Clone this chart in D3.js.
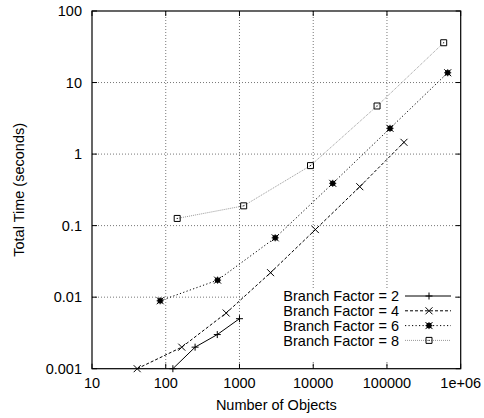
<!DOCTYPE html>
<html>
<head>
<meta charset="utf-8">
<script src="https://cdn.jsdelivr.net/npm/d3@7"></script>
<style>
  body { margin: 0; background: #fff; }
  text { font-family: "Liberation Sans", Arial, sans-serif; font-size: 14.5px; fill: #000; }
</style>
</head>
<body>
<div id="chart"></div>
<script>
// branch factor series
var bf2X = [125, 250, 500, 1000];
var bf2Y = [0.001, 0.002, 0.003, 0.005];
var bf4X = [41, 165, 660, 2640, 10700, 42800, 170000];
var bf4Y = [0.001, 0.002, 0.006, 0.022, 0.088, 0.35, 1.46];
var bf6X = [84, 505, 3050, 18400, 110000, 667000];
var bf6Y = [0.0089, 0.0173, 0.0675, 0.39, 2.29, 13.7];
var bf8X = [143, 1140, 9190, 73400, 588000];
var bf8Y = [0.126, 0.189, 0.69, 4.7, 36];

var seriesNames = ["Branch Factor = 2", "Branch Factor = 4", "Branch Factor = 6", "Branch Factor = 8"];
var xTicks = [10, 100, 1000, 10000, 100000, 1000000];
var xTickLabels = ["10", "100", "1000", "10000", "100000", "1e+06"];
var yTicks = [0.001, 0.01, 0.1, 1, 10, 100];
var yTickLabels = ["0.001", "0.01", "0.1", "1", "10", "100"];

var margin = {
        top: 11,
        right: 23.3,
        bottom: 49.3,
        left: 92
    },
    width = 484 - margin.left - margin.right,
    height = 418 - margin.top - margin.bottom;

var x = d3.scaleLog()
    .domain([10, 1000000])
    .range([0, width]);

var y = d3.scaleLog()
    .domain([0.001, 100])
    .range([height, 0]);

function zip(xs, ys) {
    return xs.map(function (v, i) {
        return [v, ys[i]];
    });
}

var series = [
    { name: seriesNames[0], data: zip(bf2X, bf2Y), marker: "plus", color: "#000", dash: null },
    { name: seriesNames[1], data: zip(bf4X, bf4Y), marker: "cross", color: "#000", dash: "3,2" },
    { name: seriesNames[2], data: zip(bf6X, bf6Y), marker: "star", color: "#000", dash: "1.2,2.3" },
    { name: seriesNames[3], data: zip(bf8X, bf8Y), marker: "box", color: "#999", dash: "1,1" }
];

// stroke-drawn point shapes, gnuplot style
function markerPath(type) {
    var s = 3.5;
    if (type == "plus") return "M" + -s + ",0H" + s + "M0," + -s + "V" + s;
    if (type == "cross") return "M" + -s + "," + -s + "L" + s + "," + s + "M" + -s + "," + s + "L" + s + "," + -s;
    if (type == "star") return "M" + -s + ",0H" + s + "M0," + -s + "V" + s +
        "M" + -s + "," + -s + "L" + s + "," + s + "M" + -s + "," + s + "L" + s + "," + -s +
        "M-2,-2H2V2H-2Z";
    return "M-3,-3H3V3H-3ZM-0.5,0H0.5";
}

var svg = d3.select("#chart")
    .append("svg")
    .attr("width", 484)
    .attr("height", 418);

var main = svg.append("g")
    .attr("transform", "translate(" + margin.left + "," + margin.top + ")");

// grid
main.append("g")
    .selectAll("line")
    .data(xTicks.slice(1, -1))
    .enter().append("line")
    .attr("x1", function (d) { return x(d); })
    .attr("x2", function (d) { return x(d); })
    .attr("y1", 0)
    .attr("y2", height)
    .attr("stroke", "#777")
    .attr("stroke-width", 1)
    .attr("stroke-dasharray", "1,2");

main.append("g")
    .selectAll("line")
    .data(yTicks.slice(1, -1))
    .enter().append("line")
    .attr("x1", 0)
    .attr("x2", width)
    .attr("y1", function (d) { return y(d); })
    .attr("y2", function (d) { return y(d); })
    .attr("stroke", "#777")
    .attr("stroke-width", 1)
    .attr("stroke-dasharray", "1,2");

// key background clears the grid
var keyX = 243 - margin.left, keyY = 288 - margin.top;
main.append("rect")
    .attr("x", keyX)
    .attr("y", keyY)
    .attr("width", 455 - 243)
    .attr("height", 360 - 288)
    .attr("fill", "#fff");

// ticks, mirrored on all sides
var tickLen = 5;
var tk = main.append("g").attr("stroke", "#000").attr("stroke-width", 1);
xTicks.forEach(function (d) {
    tk.append("line").attr("x1", x(d)).attr("x2", x(d)).attr("y1", height).attr("y2", height - tickLen);
    tk.append("line").attr("x1", x(d)).attr("x2", x(d)).attr("y1", 0).attr("y2", tickLen);
});
yTicks.forEach(function (d) {
    tk.append("line").attr("x1", 0).attr("x2", tickLen).attr("y1", y(d)).attr("y2", y(d));
    tk.append("line").attr("x1", width).attr("x2", width - tickLen).attr("y1", y(d)).attr("y2", y(d));
});

main.append("rect")
    .attr("width", width)
    .attr("height", height)
    .attr("fill", "none")
    .attr("stroke", "#000")
    .attr("stroke-width", 1.2);

// tick labels
main.append("g")
    .selectAll("text")
    .data(xTicks)
    .enter().append("text")
    .attr("x", function (d) { return x(d); })
    .attr("y", height + 19)
    .attr("text-anchor", "middle")
    .text(function (d, i) { return xTickLabels[i]; });

main.append("g")
    .selectAll("text")
    .data(yTicks)
    .enter().append("text")
    .attr("x", -10)
    .attr("y", function (d) { return y(d); })
    .attr("dy", "0.36em")
    .attr("text-anchor", "end")
    .text(function (d, i) { return yTickLabels[i]; });

svg.append("text")
    .attr("x", margin.left + width / 2)
    .attr("y", 410)
    .attr("text-anchor", "middle")
    .text("Number of Objects");

svg.append("text")
    .attr("transform", "translate(24," + (margin.top + height / 2) + ") rotate(-90)")
    .attr("text-anchor", "middle")
    .text("Total Time (seconds)");

// series
var line = d3.line()
    .x(function (d) { return x(d[0]); })
    .y(function (d) { return y(d[1]); });

var sg = main.selectAll(".series")
    .data(series)
    .enter().append("g")
    .attr("class", "series");

sg.append("path")
    .attr("d", function (d) { return line(d.data); })
    .attr("fill", "none")
    .attr("stroke", function (d) { return d.color; })
    .attr("stroke-width", 1)
    .attr("stroke-dasharray", function (d) { return d.dash; });

sg.each(function (s) {
    d3.select(this).selectAll(".pt")
        .data(s.data)
        .enter().append("path")
        .attr("class", "pt")
        .attr("transform", function (d) { return "translate(" + x(d[0]) + "," + y(d[1]) + ")"; })
        .attr("d", markerPath(s.marker))
        .attr("fill", s.marker == "star" ? "#000" : "none")
        .attr("stroke", "#000")
        .attr("stroke-width", 1);
});

// key
var key = svg.append("g")
    .selectAll("g")
    .data(series)
    .enter().append("g")
    .attr("transform", function (d, i) { return "translate(0," + (296 + i * 14.8) + ")"; });

key.append("text")
    .attr("x", 399)
    .attr("dy", "0.36em")
    .attr("text-anchor", "end")
    .text(function (d) { return d.name; });

key.append("line")
    .attr("x1", 405)
    .attr("x2", 451)
    .attr("stroke", function (d) { return d.color; })
    .attr("stroke-width", 1)
    .attr("stroke-dasharray", function (d) { return d.dash; });

key.append("path")
    .attr("transform", "translate(429,0)")
    .attr("d", function (d) { return markerPath(d.marker); })
    .attr("fill", function (d) { return d.marker == "star" ? "#000" : "none"; })
    .attr("stroke", "#000")
    .attr("stroke-width", 1);
</script>
</body>
</html>
